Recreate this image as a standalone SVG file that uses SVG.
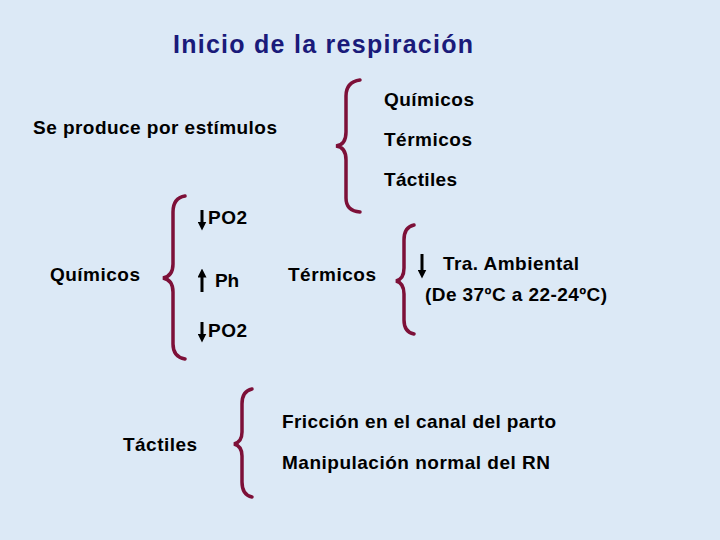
<svg xmlns="http://www.w3.org/2000/svg" width="720" height="540" viewBox="0 0 720 540">
<defs>
<style>
text{font-family:"Liberation Sans",Arial,sans-serif;font-weight:bold;font-size:19px;fill:#000}
.t{fill:#1a1a7a;font-size:25px}
.b{fill:none;stroke:#7d1038;stroke-width:3.5;stroke-linecap:round}
.a{stroke:#000;stroke-width:3}
</style>
<marker id="ah" viewBox="0 0 10 10" refX="5" refY="5" markerWidth="3" markerHeight="3" orient="auto-start-reverse"><path d="M0,0 L10,5 L0,10 z" fill="#000"/></marker>
</defs>
<rect width="720" height="540" fill="#dce9f6"/>
<g id="title"><text class="t" x="173" y="53" textLength="300">Inicio de la respiración</text></g>
<g id="estimulos"><text x="33" y="134" textLength="244">Se produce por estímulos</text>
<text x="384" y="106" textLength="90">Químicos</text><text x="384" y="146" textLength="88">Térmicos</text><text x="384" y="186" textLength="73">Táctiles</text></g>
<g id="quimicos"><text x="50" y="281" textLength="90">Químicos</text><text x="208" y="224" textLength="39">PO2</text><text x="215" y="287" textLength="24">Ph</text><text x="208" y="337" textLength="39">PO2</text></g>
<g id="termicos"><text x="288" y="281" textLength="88">Térmicos</text><text x="443" y="270" textLength="136">Tra. Ambiental</text><text x="425" y="301" textLength="182">(De 37ºC a 22-24ºC)</text></g>
<g id="tactiles"><text x="123" y="451" textLength="74">Táctiles</text><text x="282" y="428" textLength="274">Fricción en el canal del parto</text><text x="282" y="469" textLength="268">Manipulación normal del RN</text></g>
<g id="connectors">
<path class="b" d="M360,80 Q346,82 346,96 L346,132 Q346,145 336,146 Q346,147 346,160 L346,198 Q346,211 360,212"/>
<path class="b" d="M185,196 Q173,198 173,212 L173,264 Q173,276 163,278 Q173,280 173,292 L173,344 Q173,357 185,359"/>
<path class="b" d="M414,225 Q404,227 404,240 L404,268 Q404,279 396,281 Q404,283 404,294 L404,320 Q404,332 414,334"/>
<path class="b" d="M252,389 Q242,391 242,404 L242,432 Q242,442 234,444 Q242,446 242,456 L242,482 Q242,495 252,497"/>
<line class="a" x1="202" y1="210" x2="202" y2="226" marker-end="url(#ah)"/>
<line class="a" x1="202" y1="292" x2="202" y2="273" marker-end="url(#ah)"/>
<line class="a" x1="202" y1="322" x2="202" y2="338" marker-end="url(#ah)"/>
<line class="a" x1="422" y1="254" x2="422" y2="274" marker-end="url(#ah)"/>
</g>
</svg>
